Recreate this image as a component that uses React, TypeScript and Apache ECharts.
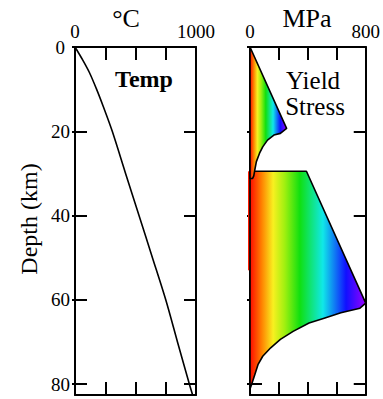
import React, { useEffect, useRef } from 'react';
import * as echarts from 'echarts';

// Tick values / labels
const depthTicks = [0, 20, 40, 60, 80];
const tempTicks = [0, 250, 500, 750, 1000];
const tempTickLabels = [0, 1000];
const stressTicks = [0, 200, 400, 600, 800];
const stressTickLabels = [0, 800];

// Temperature profile (°C vs depth km)
const tempDepth = [0, 3, 6, 10, 14, 20, 30, 40, 50, 60, 70, 80, 82.6];
const tempValue = [0, 62, 118, 178, 232, 308, 418, 529, 640, 750, 847, 945, 972];

// Yield stress envelope: upper crust (MPa vs depth km)
const upperStress = [0, 253, 210, 165, 121, 88, 66, 44, 33, 26, 18, 0];
const upperDepth = [0, 19.3, 20.5, 20.9, 22.1, 23.7, 25.2, 27.2, 29.2, 30.6, 31.2, 31.2];

// Yield stress envelope: lower crust / mantle block
const lowerStress = [0, 390, 800, 760, 628, 518, 408, 298, 210, 143, 88, 55, 33, 11, 3, 0];
const lowerDepth = [29.5, 29.5, 60.8, 62, 63.1, 64.3, 65.5, 67.5, 69.4, 71.4, 73.4, 75.4, 77.8, 80.1, 80.9, 81];

// thin red strip just left of the stress axis
const stripStress = [-14, 0, 0, -14];
const stripDepth = [29.5, 29.5, 53, 53];

const FONT = 'Liberation Serif';

export default function App() {
  const ref = useRef<HTMLDivElement>(null);
  useEffect(() => {
    document.body.style.margin = '0';
    const chart = echarts.init(ref.current!, null, { renderer: 'svg' });
    const line = { color: '#000', width: 2 };
    const rainbow = () =>
      new echarts.graphic.LinearGradient(0, 0, 1, 0, [
        { offset: 0, color: '#ff0a00' },
        { offset: 0.1, color: '#ff8000' },
        { offset: 0.2, color: '#f8f020' },
        { offset: 0.3, color: '#a0f010' },
        { offset: 0.43, color: '#10e010' },
        { offset: 0.63, color: '#10e8e8' },
        { offset: 0.83, color: '#1010ff' },
        { offset: 1, color: '#9a00ff' },
      ]);

    const yMax = 82.6;
    const baseY = (gridIndex: number, position: string, extra: any) => ({
      gridIndex,
      type: 'value',
      inverse: true,
      min: 0,
      max: yMax,
      position,
      splitLine: { show: false },
      axisLine: { show: false, onZero: false, lineStyle: line },
      axisTick: { show: false },
      axisLabel: { show: false },
      ...extra,
    });
    const yAxes: any[] = [];
    [0, 1].forEach((g) => {
      yAxes.push(
        baseY(g, 'left', {
          axisLine: { show: true, onZero: false, lineStyle: line },
          axisTick: { show: true, inside: true, length: 12, lineStyle: line, customValues: depthTicks },
          axisLabel:
            g === 0
              ? {
                  show: true,
                  customValues: depthTicks,
                  margin: 5,
                  fontSize: 19,
                  fontFamily: FONT,
                  color: '#000',
                  formatter: (v: number) => (v === 0 ? '{z|0}' : String(v)),
                  rich: { z: { fontSize: 19, fontFamily: FONT, color: '#000', padding: [0, 5, 0, 0] } },
                }
              : { show: false },
        })
      );
      yAxes.push(
        baseY(g, 'left', {
          axisTick: { show: true, inside: false, length: 3, lineStyle: line, customValues: depthTicks },
        })
      );
      yAxes.push(
        baseY(g, 'right', {
          axisLine: { show: true, onZero: false, lineStyle: line },
          axisTick: { show: true, inside: true, length: 12, lineStyle: line, customValues: depthTicks },
        })
      );
    });

    const baseX = (gridIndex: number, position: string, max: number, interval: number, ticks: number[], labels: number[] | null) => ({
      gridIndex,
      type: 'value',
      min: 0,
      max,
      interval,
      position,
      splitLine: { show: false },
      axisLine: { show: true, onZero: false, lineStyle: line },
      axisTick: { show: true, inside: true, length: 13, lineStyle: line, customValues: ticks },
      axisLabel: labels
        ? {
            show: true,
            customValues: labels,
            margin: 6,
            fontSize: 19,
            fontFamily: FONT,
            color: '#000',
            formatter: (v: number) => String(v),
          }
        : { show: false },
    });
    const xAxes = [
      baseX(0, 'top', 1000, 250, tempTicks, tempTickLabels),
      baseX(0, 'bottom', 1000, 250, tempTicks, null),
      baseX(1, 'top', 800, 200, stressTicks, stressTickLabels),
      baseX(1, 'bottom', 800, 200, stressTicks, null),
    ];

    const shapes = [
      { stress: stripStress, depth: stripDepth, kind: 'strip' },
      { stress: lowerStress, depth: lowerDepth, kind: 'fill' },
      { stress: upperStress, depth: upperDepth, kind: 'fill' },
    ];

    chart.setOption({
      animation: false,
      textStyle: { fontFamily: FONT },
      grid: [
        { left: 75, top: 47, width: 121, height: 348 },
        { left: 250, top: 47, width: 121, height: 348 },
      ],
      xAxis: xAxes,
      yAxis: yAxes,
      series: [
        {
          type: 'line',
          xAxisIndex: 0,
          yAxisIndex: 0,
          data: tempDepth.map((d, i) => [tempValue[i], d]),
          showSymbol: false,
          symbol: 'none',
          smooth: 0.3,
          lineStyle: { color: '#000', width: 1.6 },
          silent: true,
        },
        {
          type: 'custom',
          xAxisIndex: 2,
          yAxisIndex: 3,
          silent: true,
          clip: false,
          data: shapes.map((_, i) => [i]),
          renderItem: (params: any, api: any) => {
            const s = shapes[params.dataIndex];
            const pts = s.stress.map((v, i) => api.coord([v, s.depth[i]]));
            return {
              type: 'polygon',
              shape: { points: pts },
              style:
                s.kind === 'strip'
                  ? { fill: '#ff1a00', stroke: null }
                  : { fill: rainbow(), stroke: '#000', lineWidth: 1.6, lineJoin: 'round' },
            };
          },
        },
      ],
      graphic: [
        { type: 'text', x: 126, y: 18, style: { text: '°C', font: `26px ${FONT}`, fill: '#000', align: 'center', verticalAlign: 'middle' } },
        { type: 'text', x: 307, y: 18, style: { text: 'MPa', font: `26px ${FONT}`, fill: '#000', align: 'center', verticalAlign: 'middle' } },
        { type: 'text', x: 144, y: 79, style: { text: 'Temp', font: `bold 24px ${FONT}`, fill: '#000', align: 'center', verticalAlign: 'middle' } },
        { type: 'text', x: 313, y: 80, style: { text: 'Yield', font: `25px ${FONT}`, fill: '#000', align: 'center', verticalAlign: 'middle' } },
        { type: 'text', x: 315, y: 106, style: { text: 'Stress', font: `25px ${FONT}`, fill: '#000', align: 'center', verticalAlign: 'middle' } },
        { type: 'text', x: 29, y: 219, rotation: Math.PI / 2, style: { text: 'Depth (km)', font: `24px ${FONT}`, fill: '#000', align: 'center', verticalAlign: 'middle' } },
      ],
    });
    return () => chart.dispose();
  }, []);
  return <div ref={ref} style={{ width: 383, height: 399 }} />;
}
